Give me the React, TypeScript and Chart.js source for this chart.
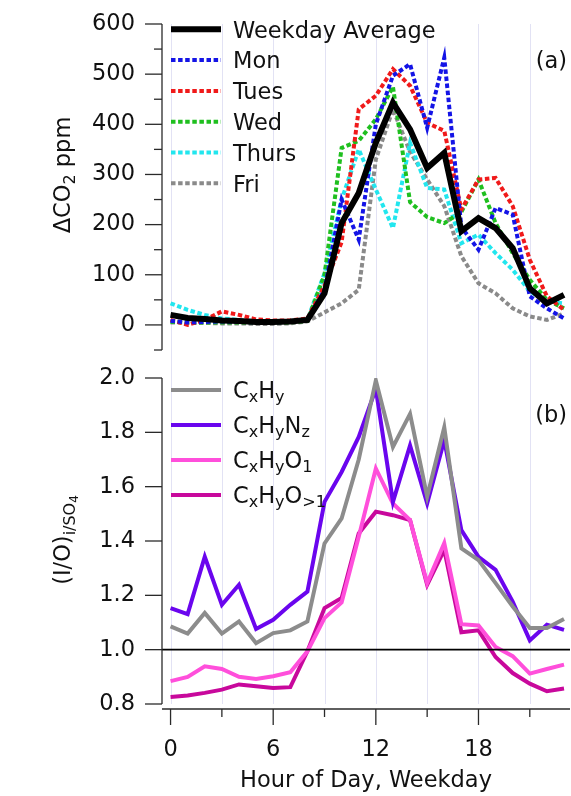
import React, { useEffect, useRef } from 'react';
import { Chart, registerables } from 'chart.js';

Chart.register(...registerables);

// ---------------- data ----------------
const hours = [0, 1, 2, 3, 4, 5, 6, 7, 8, 9, 10, 11, 12, 13, 14, 15, 16, 17, 18, 19, 20, 21, 22, 23];

const weekdayAvg = [20, 14, 12, 9, 8, 6, 6, 7, 10, 63, 203, 263, 363, 443, 390, 313, 343, 187, 213, 193, 153, 73, 43, 60];
const mon = [8, 5, 6, 7, 6, 5, 5, 6, 10, 70, 250, 170, 400, 497, 520, 393, 533, 195, 150, 233, 220, 57, 33, 13];
const tues = [10, 0, 10, 27, 20, 11, 9, 9, 13, 78, 165, 430, 457, 510, 477, 403, 387, 230, 290, 293, 237, 130, 57, 30];
const wed = [6, 5, 5, 5, 5, 5, 5, 5, 8, 100, 353, 367, 410, 475, 245, 215, 203, 225, 290, 203, 143, 90, 50, 33];
const thurs = [43, 30, 20, 13, 10, 8, 7, 8, 10, 103, 250, 350, 270, 193, 363, 273, 270, 163, 180, 143, 110, 67, 47, 43];
const fri = [5, 4, 4, 3, 3, 2, 2, 3, 7, 25, 43, 70, 330, 430, 345, 290, 237, 137, 83, 63, 33, 17, 10, 23];

const cxhy = [1.086, 1.059, 1.135, 1.059, 1.104, 1.024, 1.061, 1.071, 1.104, 1.391, 1.483, 1.70, 1.991, 1.746, 1.868, 1.563, 1.819, 1.373, 1.330, 1.245, 1.159, 1.080, 1.080, 1.113];
const cxhynz = [1.153, 1.131, 1.342, 1.165, 1.239, 1.076, 1.110, 1.165, 1.214, 1.544, 1.654, 1.783, 1.960, 1.544, 1.752, 1.538, 1.771, 1.440, 1.342, 1.294, 1.177, 1.034, 1.092, 1.073];
const cxhyo1 = [0.884, 0.900, 0.939, 0.929, 0.900, 0.892, 0.902, 0.917, 0.994, 1.116, 1.174, 1.416, 1.667, 1.538, 1.477, 1.245, 1.392, 1.094, 1.089, 1.010, 0.976, 0.912, 0.929, 0.945];
const cxhyo2 = [0.826, 0.831, 0.841, 0.853, 0.872, 0.865, 0.859, 0.862, 0.994, 1.153, 1.190, 1.428, 1.508, 1.495, 1.477, 1.239, 1.367, 1.064, 1.071, 0.973, 0.914, 0.875, 0.847, 0.857];

const legendA = ['Weekday Average', 'Mon', 'Tues', 'Wed', 'Thurs', 'Fri'];

const yTicksA = [-50, 0, 50, 100, 150, 200, 250, 300, 350, 400, 450, 500, 550, 600];
const yLabelsA = [0, 100, 200, 300, 400, 500, 600];
const yTicksB = [0.8, 1.0, 1.2, 1.4, 1.6, 1.8, 2.0];
const xLabelHours = [0, 6, 12, 18];
const xMinorHours = [3, 9, 15, 21];
const gridHours = [0, 3, 6, 9, 12, 15, 18, 21];

const titleX = 'Hour of Day, Weekday';
const panelA = '(a)';
const panelB = '(b)';

// ---------------- style ----------------
const FONT = '"DejaVu Sans", "Liberation Sans", sans-serif';
const MAIN = 22.5;
const SUB = 16;
const TEXT = '#111111';
const AXIS = '#2a2a2a';
const GRID = '#e2e2f4';
const DOT = [4.5, 2.6];
const TOP_B = 340;
const X_MIN = -0.5;
const X_MAX = 23.35;

type Run = { t: string; s?: number; dy?: number };

const titleA: Run[] = [{ t: 'ΔCO' }, { t: '2', s: SUB, dy: 5 }, { t: ' ppm' }];
const titleB: Run[] = [{ t: '(I/O)' }, { t: 'i/SO', s: SUB, dy: 5 }, { t: '4', s: 12, dy: 8 }];

const legendB: Run[][] = [
  [{ t: 'C' }, { t: 'x', s: SUB, dy: 4 }, { t: 'H' }, { t: 'y', s: SUB, dy: 4 }],
  [{ t: 'C' }, { t: 'x', s: SUB, dy: 4 }, { t: 'H' }, { t: 'y', s: SUB, dy: 4 }, { t: 'N' }, { t: 'z', s: SUB, dy: 4 }],
  [{ t: 'C' }, { t: 'x', s: SUB, dy: 4 }, { t: 'H' }, { t: 'y', s: SUB, dy: 4 }, { t: 'O' }, { t: '1', s: SUB, dy: 4 }],
  [{ t: 'C' }, { t: 'x', s: SUB, dy: 4 }, { t: 'H' }, { t: 'y', s: SUB, dy: 4 }, { t: 'O' }, { t: '>1', s: SUB, dy: 4 }],
];

const seriesA = [
  { data: weekdayAvg, color: '#000000', width: 6, dash: [] as number[] },
  { data: mon, color: '#1414e6', width: 4, dash: DOT },
  { data: tues, color: '#f01a1a', width: 4, dash: DOT },
  { data: wed, color: '#1fbf1f', width: 4, dash: DOT },
  { data: thurs, color: '#22e6ee', width: 4, dash: DOT },
  { data: fri, color: '#8a8a8a', width: 4, dash: DOT },
];

const seriesB = [
  { data: cxhy, color: '#8c8c8c', width: 4 },
  { data: cxhynz, color: '#6a05ee', width: 4 },
  { data: cxhyo1, color: '#ff4fdb', width: 4 },
  { data: cxhyo2, color: '#c8089c', width: 4 },
];

// ---------------- helpers ----------------
function runsWidth(ctx: CanvasRenderingContext2D, runs: Run[]) {
  let w = 0;
  for (const r of runs) {
    ctx.font = `${r.s ?? MAIN}px ${FONT}`;
    w += ctx.measureText(r.t).width;
  }
  return w;
}

function drawRuns(ctx: CanvasRenderingContext2D, runs: Run[], x: number, y: number) {
  let cx = x;
  for (const r of runs) {
    ctx.font = `${r.s ?? MAIN}px ${FONT}`;
    ctx.fillText(r.t, cx, y + (r.dy ?? 0));
    cx += ctx.measureText(r.t).width;
  }
}

function drawVerticalTitle(ctx: CanvasRenderingContext2D, runs: Run[], cx: number, cy: number) {
  ctx.save();
  ctx.translate(cx, cy);
  ctx.rotate(-Math.PI / 2);
  ctx.textAlign = 'left';
  ctx.textBaseline = 'alphabetic';
  ctx.fillStyle = TEXT;
  const w = runsWidth(ctx, runs);
  drawRuns(ctx, runs, -w / 2, 8.3);
  ctx.restore();
}

function line(ctx: CanvasRenderingContext2D, x1: number, y1: number, x2: number, y2: number) {
  ctx.beginPath();
  ctx.moveTo(x1, y1);
  ctx.lineTo(x2, y2);
  ctx.stroke();
}

function toPoints(arr: number[]) {
  return hours.map((h, i) => ({ x: h, y: arr[i] }));
}

const hiddenGrid = {
  display: true,
  drawOnChartArea: false,
  drawTicks: true,
  tickLength: 27,
  color: 'rgba(0,0,0,0)',
  tickColor: 'rgba(0,0,0,0)',
};

const decorA = {
  id: 'decorA',
  beforeDatasetsDraw(chart: any) {
    const { ctx, chartArea: ca, scales } = chart;
    ctx.save();
    ctx.strokeStyle = GRID;
    ctx.lineWidth = 1;
    for (const h of gridHours) {
      const px = Math.round(scales.x.getPixelForValue(h)) + 0.5;
      line(ctx, px, ca.top, px, ca.bottom);
    }
    ctx.restore();
  },
  afterDatasetsDraw(chart: any) {
    const { ctx, chartArea: ca, scales } = chart;
    const y = scales.y;
    ctx.save();
    ctx.strokeStyle = AXIS;
    ctx.lineWidth = 1.3;
    ctx.setLineDash([]);
    line(ctx, ca.left, ca.top, ca.left, ca.bottom);
    for (const t of yTicksA) {
      const py = y.getPixelForValue(t);
      const len = yLabelsA.includes(t) ? 17 : 8;
      line(ctx, ca.left - len, py, ca.left, py);
    }
    // legend
    ctx.lineCap = 'butt';
    seriesA.forEach((s, i) => {
      const cy = 29.3 + i * 30.8;
      ctx.strokeStyle = s.color;
      ctx.lineWidth = s.width;
      ctx.setLineDash(s.dash);
      line(ctx, 171, cy, 221, cy);
      ctx.setLineDash([]);
      ctx.fillStyle = TEXT;
      ctx.textAlign = 'left';
      ctx.textBaseline = 'alphabetic';
      ctx.font = `${MAIN}px ${FONT}`;
      ctx.fillText(legendA[i], 233, cy + 8.3);
    });
    ctx.fillStyle = TEXT;
    ctx.textAlign = 'right';
    ctx.font = `${MAIN}px ${FONT}`;
    ctx.fillText(panelA, 567, 68);
    drawVerticalTitle(ctx, titleA, 62, 175);
    ctx.restore();
  },
};

const decorB = {
  id: 'decorB',
  beforeDatasetsDraw(chart: any) {
    const { ctx, chartArea: ca, scales } = chart;
    ctx.save();
    ctx.strokeStyle = GRID;
    ctx.lineWidth = 1;
    for (const h of gridHours) {
      const px = Math.round(scales.x.getPixelForValue(h)) + 0.5;
      line(ctx, px, 350 - TOP_B, px, ca.bottom);
    }
    ctx.restore();
  },
  afterDatasetsDraw(chart: any) {
    const { ctx, chartArea: ca, scales } = chart;
    const x = scales.x;
    const y = scales.y;
    ctx.save();
    ctx.setLineDash([]);
    // reference line at 1.0
    ctx.strokeStyle = '#000000';
    ctx.lineWidth = 1.6;
    const p1 = y.getPixelForValue(1.0);
    line(ctx, ca.left, p1, ca.right, p1);
    // y axis
    ctx.strokeStyle = AXIS;
    ctx.lineWidth = 1.3;
    line(ctx, ca.left, ca.top, ca.left, ca.bottom);
    for (const t of yTicksB) {
      const py = y.getPixelForValue(t);
      line(ctx, ca.left - 17, py, ca.left, py);
    }
    // x axis
    const ax = ca.bottom + 5;
    line(ctx, ca.left, ax, ca.right, ax);
    for (const h of xLabelHours) {
      const px = x.getPixelForValue(h);
      line(ctx, px, ax, px, ax + 16);
    }
    for (const h of xMinorHours) {
      const px = x.getPixelForValue(h);
      line(ctx, px, ax, px, ax + 8);
    }
    // legend
    ctx.lineCap = 'butt';
    seriesB.forEach((s, i) => {
      const cy = 390 - TOP_B + i * 35;
      ctx.strokeStyle = s.color;
      ctx.lineWidth = s.width;
      line(ctx, 171, cy, 221, cy);
      ctx.fillStyle = TEXT;
      ctx.textAlign = 'left';
      ctx.textBaseline = 'alphabetic';
      drawRuns(ctx, legendB[i], 233, cy + 8.3);
    });
    ctx.fillStyle = TEXT;
    ctx.textAlign = 'right';
    ctx.textBaseline = 'alphabetic';
    ctx.font = `${MAIN}px ${FONT}`;
    ctx.fillText(panelB, 567, 422 - TOP_B);
    drawVerticalTitle(ctx, titleB, 62, 540 - TOP_B);
    ctx.restore();
  },
};

const common = {
  animation: false as const,
  responsive: false,
  maintainAspectRatio: false,
  events: [] as any[],
  plugins: { legend: { display: false }, tooltip: { enabled: false } },
  elements: { point: { radius: 0 }, line: { tension: 0 } },
};

export default function App() {
  const refA = useRef<HTMLCanvasElement>(null);
  const refB = useRef<HTMLCanvasElement>(null);

  useEffect(() => {
    const chartA = new Chart(refA.current as HTMLCanvasElement, {
      type: 'line',
      data: {
        datasets: seriesA.map((s, i) => ({
          label: legendA[i],
          data: toPoints(s.data),
          borderColor: s.color,
          backgroundColor: s.color,
          borderWidth: s.width,
          borderDash: s.dash,
          borderCapStyle: 'butt',
          pointRadius: 0,
          fill: false,
        })),
      },
      options: {
        ...common,
        layout: { padding: { left: 0, right: 1, top: 24, bottom: 20 } },
        scales: {
          x: { type: 'linear', display: false, min: X_MIN, max: X_MAX },
          y: {
            type: 'linear',
            min: -50,
            max: 600,
            afterFit: (s: any) => { s.width = 162; },
            afterBuildTicks: (s: any) => { s.ticks = yTicksA.map((v) => ({ value: v })); },
            grid: hiddenGrid,
            border: { display: false },
            ticks: {
              autoSkip: false,
              padding: 0,
              color: TEXT,
              font: { family: FONT, size: MAIN },
              callback: (v: any) => (yLabelsA.includes(Number(v)) ? String(v) : ''),
            },
          },
        },
      } as any,
      plugins: [decorA],
    });

    const chartB = new Chart(refB.current as HTMLCanvasElement, {
      type: 'line',
      data: {
        datasets: seriesB.map((s, i) => ({
          label: 'b' + i,
          data: toPoints(s.data),
          borderColor: s.color,
          backgroundColor: s.color,
          borderWidth: s.width,
          pointRadius: 0,
          fill: false,
        })),
      },
      options: {
        ...common,
        layout: { padding: { left: 0, right: 1, top: 38, bottom: 0 } },
        scales: {
          x: {
            type: 'linear',
            min: X_MIN,
            max: X_MAX,
            afterFit: (s: any) => { s.height = 92; },
            afterBuildTicks: (s: any) => { s.ticks = xLabelHours.map((v) => ({ value: v })); },
            grid: { ...hiddenGrid, tickLength: 33 },
            border: { display: false },
            ticks: { autoSkip: false, maxRotation: 0, padding: 0, color: TEXT, font: { family: FONT, size: MAIN } },
            title: { display: true, text: titleX, color: TEXT, font: { family: FONT, size: MAIN }, padding: { top: 0, bottom: 1 } },
          },
          y: {
            type: 'linear',
            min: 0.8,
            max: 2.0,
            afterFit: (s: any) => { s.width = 162; },
            afterBuildTicks: (s: any) => { s.ticks = yTicksB.map((v) => ({ value: v })); },
            grid: hiddenGrid,
            border: { display: false },
            ticks: {
              autoSkip: false,
              padding: 0,
              color: TEXT,
              font: { family: FONT, size: MAIN },
              callback: (v: any) => Number(v).toFixed(1),
            },
          },
        },
      } as any,
      plugins: [decorB],
    });

    return () => {
      chartA.destroy();
      chartB.destroy();
    };
  }, []);

  return (
    <div style={{ position: 'absolute', left: 0, top: 0, width: 571, height: 796, background: '#ffffff' }}>
      <canvas ref={refA} width={571} height={370} style={{ position: 'absolute', left: 0, top: 0 }} />
      <canvas ref={refB} width={571} height={456} style={{ position: 'absolute', left: 0, top: TOP_B }} />
    </div>
  );
}
